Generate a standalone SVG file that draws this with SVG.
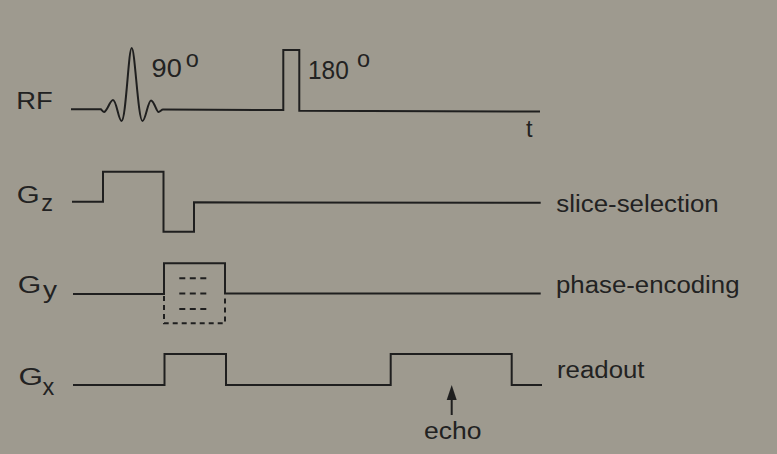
<svg xmlns="http://www.w3.org/2000/svg" width="777" height="454" viewBox="0 0 777 454">
<style>
  .w { fill: none; stroke: #1f1f1f; stroke-width: 2; stroke-linejoin: miter; }
  .d { fill: none; stroke: #1f1f1f; stroke-width: 2; stroke-dasharray: 5 4; }
  .di { fill: none; stroke: #1f1f1f; stroke-width: 2; stroke-dasharray: 6 4.5; }
  .t { font-family: "Liberation Sans", Arial, Helvetica, sans-serif; fill: #222; font-size: 23.5px; }
  .n { font-family: "Liberation Sans", Arial, Helvetica, sans-serif; fill: #222; font-size: 26px; }
</style>
<rect x="0" y="0" width="777" height="454" fill="#9e9a8f"/>

<g id="rf">
  <text class="t" x="16.3" y="109.3" textLength="36.5" lengthAdjust="spacingAndGlyphs">RF</text>
  <path class="w" d="M71,109.3 H101 C102,110.5 103,112 104,112 C107,112 110,100 113,100 C116.5,100 118.5,121 121.5,121 C126,121 128.5,48 131.7,48 C135,48 138,121 142.5,121 C145.5,121 148,100.5 151,100.5 C154,100.5 156.5,112 158.5,112 C160,112 161.5,109.5 163,109.5 L283.3,110 V50 H299.3 V110.7 L540,111.5"/>
  <text class="n" x="151.6" y="76.7" textLength="30.2" lengthAdjust="spacingAndGlyphs">90</text>
  <text class="t" x="185.7" y="67" font-size="25">o</text>
  <text class="n" x="308" y="79.3" textLength="40.8" lengthAdjust="spacingAndGlyphs">180</text>
  <text class="t" x="357" y="66.7" font-size="25">o</text>
  <text class="t" x="526" y="136.5">t</text>
</g>

<g id="gz">
  <text class="t" x="16.8" y="202.7" textLength="22.9" lengthAdjust="spacingAndGlyphs">G</text>
  <text class="t" x="41.2" y="210.7" font-size="24">z</text>
  <path class="w" d="M72,201.7 H103 V171.7 H163.5 V231.7 H194 V202.3 L540.7,202.8"/>
  <text class="t" x="556.3" y="211.7" textLength="162.4" lengthAdjust="spacingAndGlyphs">slice-selection</text>
</g>

<g id="gy">
  <text class="t" x="17.8" y="293.3" textLength="23.5" lengthAdjust="spacingAndGlyphs">G</text>
  <text class="t" x="43" y="297.5" font-size="24" textLength="14" lengthAdjust="spacingAndGlyphs">y</text>
  <path class="w" d="M73,294 H164 V263.3 H225 V293.5 H540.7"/>
  <path class="d" d="M164,296 V323.3 H225 V296"/>
  <path class="di" d="M179.3,278.3 H206.3 M179.3,293.5 H206.3 M179.3,309 H206.3"/>
  <text class="t" x="556" y="293" textLength="183.5" lengthAdjust="spacingAndGlyphs">phase-encoding</text>
</g>

<g id="gx">
  <text class="t" x="18.5" y="385" textLength="24.5" lengthAdjust="spacingAndGlyphs">G</text>
  <text class="t" x="42.5" y="395" font-size="24">x</text>
  <path class="w" d="M73,385 H164.5 V354 H226 V385 H390.7 V354 H511.7 V385 H542"/>
  <text class="t" x="557" y="378.3" textLength="87.5" lengthAdjust="spacingAndGlyphs">readout</text>
</g>

<g id="connectors">
  <line class="w" x1="451.7" y1="415" x2="451.7" y2="398"/>
  <polygon points="451.7,385 446.7,400 456.7,400" fill="#1f1f1f"/>
</g>

<g id="echo">
  <text class="t" x="424" y="439.3" textLength="57.5" lengthAdjust="spacingAndGlyphs">echo</text>
</g>
</svg>
